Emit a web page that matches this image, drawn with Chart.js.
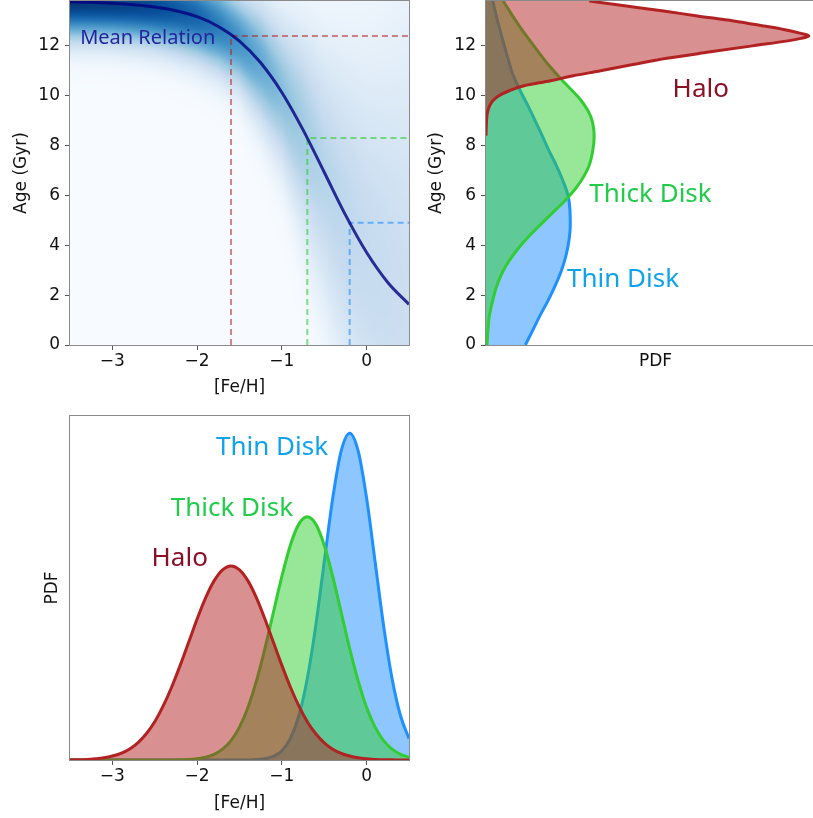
<!DOCTYPE html>
<html>
<head>
<meta charset="utf-8">
<script src="https://cdn.jsdelivr.net/npm/chart.js@4.4.0/dist/chart.umd.min.js"></script>
<style>
  html, body { margin: 0; padding: 0; background: #fff; overflow: hidden; }
  body { width: 813px; height: 818px; position: relative; }
  canvas { position: absolute; }
</style>
</head>
<body>
<canvas id="amr" width="420" height="400" style="left:0;top:0"></canvas>
<canvas id="agePdf" width="420" height="400" style="left:420px;top:0"></canvas>
<canvas id="fehPdf" width="420" height="418" style="left:0;top:400px"></canvas>
<script>
// axis ranges and ticks
const fehRange = [-3.5, 0.5];
const ageRange = [0, 13.8];
const fehTicks = [-3, -2, -1, 0];
const ageTicks = [0, 2, 4, 6, 8, 10, 12];

// mean age-metallicity relation
const meanFeH = [-3.5, -3.25, -3.0, -2.75, -2.5, -2.25, -2.0, -1.75, -1.5, -1.25, -1.0, -0.75, -0.5, -0.25, 0.0, 0.25, 0.5];
const meanAge = [13.77, 13.75, 13.71, 13.65, 13.56, 13.41, 13.17, 12.78, 12.19, 11.32, 10.13, 8.63, 6.93, 5.22, 3.71, 2.51, 1.63];

// populations: Halo, Thick Disk, Thin Disk
const popNames = ["Halo", "Thick Disk", "Thin Disk"];
const popFeH = [-1.6, -0.7, -0.2];
const popAge = [12.4, 8.3, 4.9];

// spread / strength of the p(age | [Fe/H]) shading
const heatFeH = [-3.5, -3.0, -2.5, -2.0, -1.5, -1.0, -0.5, 0.0, 0.5];
const heatSigma = [1.0, 1.0, 1.05, 1.15, 1.3, 2.0, 3.5, 5.5, 8.0];
const heatPeak = [0.97, 0.95, 0.9, 0.8, 0.62, 0.43, 0.3, 0.25, 0.22];

// [Fe/H] PDFs (bottom panel)
const fehGrid = [-3.5, -3.4, -3.3, -3.2, -3.1, -3.0, -2.9, -2.8, -2.7, -2.6, -2.5, -2.4, -2.3, -2.2, -2.1, -2.0, -1.9, -1.8, -1.7, -1.6, -1.5,
                 -1.4, -1.3, -1.2, -1.1, -1.0, -0.9, -0.8, -0.7, -0.6, -0.5, -0.4, -0.3, -0.2, -0.1, 0.0, 0.1, 0.2, 0.3, 0.4, 0.5];
const haloFeHPdf = [0.001, 0.001, 0.002, 0.005, 0.009, 0.016, 0.027, 0.044, 0.070, 0.107, 0.156, 0.220, 0.297, 0.385, 0.479, 0.574, 0.660, 0.729, 0.774, 0.790, 0.774,
                    0.729, 0.660, 0.574, 0.479, 0.385, 0.297, 0.220, 0.156, 0.107, 0.070, 0.044, 0.027, 0.016, 0.009, 0.005, 0.002, 0.001, 0.001, 0.000, 0.000];
const thickFeHPdf = [0, 0, 0, 0, 0, 0, 0, 0, 0, 0, 0, 0, 0, 0.001, 0.002, 0.005, 0.011, 0.023, 0.044, 0.079, 0.134,
                     0.214, 0.322, 0.453, 0.601, 0.747, 0.874, 0.960, 0.990, 0.960, 0.874, 0.747, 0.601, 0.453, 0.322, 0.214, 0.134, 0.079, 0.044, 0.023, 0.011];
const thinFeHPdf = [0, 0, 0, 0, 0, 0, 0, 0, 0, 0, 0, 0, 0, 0, 0, 0, 0, 0, 0, 0, 0,
                    0.000, 0.002, 0.005, 0.015, 0.038, 0.087, 0.180, 0.332, 0.547, 0.807, 1.065, 1.258, 1.330, 1.258, 1.065, 0.807, 0.547, 0.332, 0.180, 0.087];

// age PDFs (right panel)
const haloAges = [8.4, 8.8, 9.2, 9.5, 9.8, 10.0, 10.2, 10.4, 10.6, 10.8, 11.0, 11.25, 11.5, 11.75, 12.0, 12.2, 12.3, 12.4, 12.5, 12.66, 12.8, 13.0, 13.2, 13.4, 13.6, 13.8];
const haloAgePdf = [0, 0.001, 0.003, 0.008, 0.021, 0.040, 0.072, 0.118, 0.200, 0.270, 0.355, 0.455, 0.560, 0.690, 0.825, 0.935, 0.975, 1.0, 0.975, 0.922, 0.86, 0.767, 0.655, 0.55, 0.435, 0.32];
const thickAges = [0, 1.14, 1.8, 2.47, 3.14, 3.81, 4.48, 5.15, 5.81, 6.35, 7.15, 7.82, 8.35, 9.15, 9.82, 10.62, 11.2, 11.83, 12.76, 13.8];
const thickAgePdf = [0.003, 0.010, 0.021, 0.036, 0.060, 0.096, 0.142, 0.194, 0.246, 0.282, 0.318, 0.331, 0.335, 0.325, 0.294, 0.236, 0.196, 0.158, 0.105, 0.053];
const thinAges = [0, 0.6, 1.2, 1.8, 2.4, 3.0, 3.6, 4.2, 4.8, 5.4, 6.0, 6.6, 7.2, 7.8, 8.4, 9.0, 9.6, 10.2, 10.8, 11.4, 12.0, 12.6, 13.2, 13.8];
const thinAgePdf = [0.122, 0.145, 0.168, 0.193, 0.215, 0.234, 0.248, 0.257, 0.261, 0.260, 0.254, 0.238, 0.218, 0.195, 0.174, 0.152, 0.13, 0.106, 0.085, 0.07, 0.057, 0.044, 0.032, 0.021];

// styles
const lineColors = ["#b22222", "#32cd32", "#1e90ff"];
const fillColors = ["rgba(178,34,34,0.5)", "rgba(50,205,50,0.5)", "rgba(30,144,255,0.5)"];
const dashColors = ["rgba(178,34,34,0.55)", "rgba(50,205,50,0.6)", "rgba(30,144,255,0.6)"];
const textColors = ["#8b0f25", "#21cc4a", "#0fa3ec"];
const blues = [[247,251,255],[222,235,247],[198,219,239],[158,202,225],[107,174,214],[66,146,198],[33,113,181],[8,81,156],[8,48,107]];

const tickFont = { family: "DejaVu Sans", size: 17 };
const labelFont = "26px 'Noto Sans'";
const inkColor = "#111";

function fmt(v) { return v < 0 ? "\u2212" + Math.abs(v) : String(v); }

function lerp(xs, ys, v) {
    if (v <= xs[0]) return ys[0];
    for (let i = 1; i < xs.length; i++) {
        if (v <= xs[i]) {
            const t = (v - xs[i - 1]) / (xs[i] - xs[i - 1]);
            return ys[i - 1] + t * (ys[i] - ys[i - 1]);
        }
    }
    return ys[ys.length - 1];
}

function bluesColor(v) {
    v = Math.max(0, Math.min(1, v)) * (blues.length - 1);
    const i = Math.min(Math.floor(v), blues.length - 2);
    const t = v - i;
    return blues[i].map((c, k) => c + t * (blues[i + 1][k] - c));
}

const framePlugin = {
    id: "frame",
    afterDraw(chart) {
        const { ctx, chartArea: a } = chart;
        ctx.save();
        ctx.strokeStyle = "#8a8a8a";
        ctx.lineWidth = 1;
        ctx.strokeRect(Math.round(a.left) - 0.5, Math.round(a.top) - 0.5, Math.round(a.right - a.left) + 1, Math.round(a.bottom - a.top) + 1);
        ctx.restore();
    }
};

const heatPlugin = {
    id: "heat",
    beforeDatasetsDraw(chart) {
        const { ctx, chartArea: a, scales: { x, y } } = chart;
        const w = Math.round(a.right - a.left), h = Math.round(a.bottom - a.top);
        const off = document.createElement("canvas");
        off.width = w;
        off.height = h;
        const octx = off.getContext("2d");
        const img = octx.createImageData(w, h);
        for (let i = 0; i < w; i++) {
            const feh = x.getValueForPixel(a.left + i + 0.5);
            const mu = lerp(meanFeH, meanAge, feh);
            const sd = lerp(heatFeH, heatSigma, feh);
            const pk = lerp(heatFeH, heatPeak, feh);
            for (let j = 0; j < h; j++) {
                const age = y.getValueForPixel(a.top + j + 0.5);
                const t = (age - mu) / sd;
                const c = bluesColor(pk * Math.exp(-0.5 * t * t));
                const k = (j * w + i) * 4;
                img.data[k] = c[0];
                img.data[k + 1] = c[1];
                img.data[k + 2] = c[2];
                img.data[k + 3] = 255;
            }
        }
        octx.putImageData(img, 0, 0);
        ctx.drawImage(off, a.left, a.top);
    }
};

function labelPlugin(labels) {
    return {
        id: "popLabels",
        afterDatasetsDraw(chart) {
            const { ctx, scales: { x, y } } = chart;
            ctx.save();
            labels.forEach(l => {
                ctx.font = l.font;
                ctx.fillStyle = l.color;
                ctx.textAlign = l.align;
                ctx.textBaseline = "alphabetic";
                ctx.fillText(l.text, x.getPixelForValue(l.x), y.getPixelForValue(l.y));
            });
            ctx.restore();
        }
    };
}

function axis(opts) {
    return {
        type: "linear",
        min: opts.min,
        max: opts.max,
        afterBuildTicks: s => { s.ticks = (opts.ticks || []).map(v => ({ value: v })); },
        afterFit: s => {
            if (opts.width) s.width = opts.width;
            if (opts.height) s.height = opts.height;
            s.paddingTop = s.paddingBottom = s.paddingLeft = s.paddingRight = 0;
        },
        ticks: { display: !!opts.ticks, color: inkColor, font: tickFont, padding: opts.tickPad, callback: fmt, maxRotation: 0, autoSkip: false },
        grid: { display: !!opts.ticks, drawOnChartArea: false, tickLength: 5, color: "#555" },
        border: { display: false },
        title: { display: true, text: opts.title, color: inkColor, font: tickFont, padding: opts.titlePad }
    };
}

const baseOptions = {
    responsive: false,
    animation: false,
    events: [],
    plugins: { legend: { display: false }, tooltip: { enabled: false } },
    elements: { point: { radius: 0 } }
};

// top left: age-metallicity relation
new Chart(document.getElementById("amr"), {
    type: "line",
    data: {
        datasets: [
            {
                data: meanFeH.map((v, i) => ({ x: v, y: meanAge[i] })),
                borderColor: "rgba(0,0,128,0.8)",
                borderWidth: 3,
                cubicInterpolationMode: "monotone",
                fill: false
            },
            ...popNames.map((n, i) => ({
                data: [{ x: popFeH[i], y: ageRange[0] }, { x: popFeH[i], y: popAge[i] }, { x: fehRange[1], y: popAge[i] }],
                borderColor: dashColors[i],
                borderWidth: 2,
                borderDash: [6, 4],
                fill: false
            }))
        ]
    },
    options: {
        ...baseOptions,
        layout: { padding: { top: 1, right: 11, bottom: 0, left: 0 } },
        scales: {
            x: axis({ min: fehRange[0], max: fehRange[1], ticks: fehTicks, height: 55, tickPad: 1, title: "[Fe/H]", titlePad: { top: 0, bottom: 2 } }),
            y: axis({ min: ageRange[0], max: ageRange[1], ticks: ageTicks, width: 70, tickPad: 5, title: "Age (Gyr)", titlePad: { top: 11, bottom: 0 } })
        }
    },
    plugins: [heatPlugin, framePlugin, labelPlugin([
        { text: "Mean Relation", x: -3.38, y: 12.06, align: "left", color: "#24249c", font: "20px 'Noto Sans'" }
    ])]
});

// top right: age PDFs
new Chart(document.getElementById("agePdf"), {
    type: "line",
    data: {
        datasets: [
            [haloAges, haloAgePdf], [thickAges, thickAgePdf], [thinAges, thinAgePdf]
        ].map(([ages, pdf], i) => ({
            data: ages.map((a, k) => ({ x: pdf[k], y: a })),
            borderColor: lineColors[i],
            backgroundColor: fillColors[i],
            borderWidth: 3,
            cubicInterpolationMode: "monotone",
            fill: "origin"
        }))
    },
    options: {
        ...baseOptions,
        indexAxis: "y",
        layout: { padding: { top: 1, right: 15, bottom: 0, left: 0 } },
        scales: {
            x: axis({ min: 0, max: 1.05, height: 55, tickPad: 1, title: "PDF", titlePad: { top: 0, bottom: 28 } }),
            y: axis({ min: ageRange[0], max: ageRange[1], ticks: ageTicks, width: 66, tickPad: 5, title: "Age (Gyr)", titlePad: { top: 6, bottom: 0 } })
        }
    },
    plugins: [framePlugin, labelPlugin([
        { text: popNames[0], x: 0.578, y: 9.96, align: "left", color: textColors[0], font: labelFont },
        { text: popNames[1], x: 0.32, y: 5.75, align: "left", color: textColors[1], font: labelFont },
        { text: popNames[2], x: 0.251, y: 2.31, align: "left", color: textColors[2], font: labelFont }
    ])]
});

// bottom left: [Fe/H] PDFs
new Chart(document.getElementById("fehPdf"), {
    type: "line",
    data: {
        datasets: [haloFeHPdf, thickFeHPdf, thinFeHPdf].map((pdf, i) => ({
            data: fehGrid.map((v, k) => ({ x: v, y: pdf[k] })),
            borderColor: lineColors[i],
            backgroundColor: fillColors[i],
            borderWidth: 3,
            cubicInterpolationMode: "monotone",
            fill: "origin"
        }))
    },
    options: {
        ...baseOptions,
        layout: { padding: { top: 16, right: 11, bottom: 0, left: 0 } },
        scales: {
            x: axis({ min: fehRange[0], max: fehRange[1], ticks: fehTicks, height: 58, tickPad: 1, title: "[Fe/H]", titlePad: { top: 0, bottom: 4 } }),
            y: axis({ min: 0, max: 1.4, width: 70, tickPad: 5, title: "PDF", titlePad: { top: 42, bottom: 0 } })
        }
    },
    plugins: [framePlugin, labelPlugin([
        { text: popNames[0], x: -1.873, y: 0.79, align: "right", color: textColors[0], font: labelFont },
        { text: popNames[1], x: -0.868, y: 0.992, align: "right", color: textColors[1], font: labelFont },
        { text: popNames[2], x: -0.454, y: 1.24, align: "right", color: textColors[2], font: labelFont }
    ])]
});
</script>
</body>
</html>
